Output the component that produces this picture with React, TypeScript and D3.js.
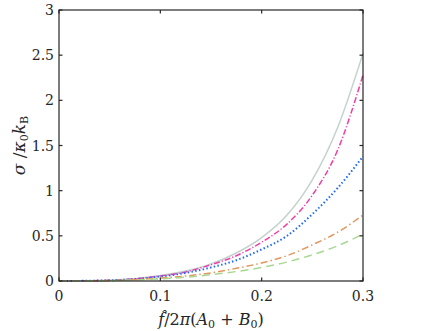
import React, { useEffect, useRef } from 'react';
import * as d3 from 'd3';

// x values (shared by all curves)
const fValues = [0, 0.025, 0.05, 0.075, 0.1, 0.125, 0.15, 0.175, 0.2, 0.225, 0.25, 0.275, 0.3];

// sigma / kappa0 kB for each curve
const greySeries = [0, 0.002, 0.008, 0.025, 0.06, 0.11, 0.19, 0.31, 0.48, 0.73, 1.12, 1.7, 2.52];
const magentaSeries = [0, 0.002, 0.008, 0.024, 0.055, 0.1, 0.18, 0.28, 0.43, 0.63, 0.95, 1.45, 2.28];
const blueSeries = [0, 0.002, 0.008, 0.022, 0.05, 0.09, 0.15, 0.23, 0.35, 0.5, 0.74, 1.03, 1.38];
const orangeSeries = [0, 0.001, 0.005, 0.015, 0.032, 0.055, 0.09, 0.14, 0.2, 0.28, 0.4, 0.54, 0.73];
const greenSeries = [0, 0.001, 0.004, 0.011, 0.024, 0.042, 0.07, 0.105, 0.15, 0.21, 0.29, 0.39, 0.52];

const xTicks = [0, 0.1, 0.2, 0.3];
const yTicks = [0, 0.5, 1, 1.5, 2, 2.5, 3];

const App = () => {
  const svgRef = useRef<SVGSVGElement>(null);
  const width = 442;
  const height = 331;
  const margin = { top: 10, right: 79, bottom: 50, left: 59 };

  useEffect(() => {
    const svg = d3.select(svgRef.current);
    svg.selectAll('*').remove();

    const x = d3.scaleLinear().domain([0, 0.3]).range([margin.left, width - margin.right]);
    const y = d3.scaleLinear().domain([0, 3]).range([height - margin.bottom, margin.top]);

    const font = 'DejaVu Serif, Liberation Serif, serif';
    const ink = '#262626';

    // curves
    const series = [
      { values: greySeries, color: '#c3d2cd', dash: null, w: 1.5 },
      { values: magentaSeries, color: '#ee3fa8', dash: '6,2,1.2,2', w: 1.5 },
      { values: blueSeries, color: '#1f6cf2', dash: '1.5,2.3', w: 2 },
      { values: orangeSeries, color: '#e3975e', dash: '7,3,1.5,3', w: 1.5 },
      { values: greenSeries, color: '#a8d890', dash: '8,5', w: 1.5 },
    ];

    const line = d3.line<number>()
      .x((_, i) => x(fValues[i]))
      .y(d => y(d))
      .curve(d3.curveMonotoneX);

    series.forEach(s => {
      const p = svg.append('path')
        .datum(s.values)
        .attr('d', line)
        .attr('fill', 'none')
        .attr('stroke', s.color)
        .attr('stroke-width', s.w);
      if (s.dash) p.attr('stroke-dasharray', s.dash);
    });

    // box
    const [x0, x1] = x.range();
    const [y0, y1] = y.range();
    svg.append('rect')
      .attr('x', x0).attr('y', y1)
      .attr('width', x1 - x0).attr('height', y0 - y1)
      .attr('fill', 'none').attr('stroke', ink).attr('stroke-width', 1.2);

    // ticks, inside on all sides
    const tl = 3.5;
    xTicks.forEach(t => {
      svg.append('line').attr('x1', x(t)).attr('x2', x(t)).attr('y1', y0).attr('y2', y0 - tl)
        .attr('stroke', ink).attr('stroke-width', 1.2);
      svg.append('line').attr('x1', x(t)).attr('x2', x(t)).attr('y1', y1).attr('y2', y1 + tl)
        .attr('stroke', ink).attr('stroke-width', 1.2);
      svg.append('text')
        .attr('x', x(t)).attr('y', y0 + 20)
        .attr('text-anchor', 'middle')
        .attr('font-family', font).attr('font-size', 14).attr('fill', ink)
        .text(t === 0 ? '0' : d3.format('.1f')(t));
    });
    yTicks.forEach(t => {
      svg.append('line').attr('x1', x0).attr('x2', x0 + tl).attr('y1', y(t)).attr('y2', y(t))
        .attr('stroke', ink).attr('stroke-width', 1.2);
      svg.append('line').attr('x1', x1).attr('x2', x1 - tl).attr('y1', y(t)).attr('y2', y(t))
        .attr('stroke', ink).attr('stroke-width', 1.2);
      svg.append('text')
        .attr('x', x0 - 5).attr('y', y(t) + 5)
        .attr('text-anchor', 'end')
        .attr('font-family', font).attr('font-size', 14).attr('fill', ink)
        .text(String(t));
    });

    // x axis title
    const xt = svg.append('text')
      .attr('x', (x0 + x1) / 2).attr('y', height - 6)
      .attr('text-anchor', 'middle')
      .attr('font-family', font).attr('font-size', 16).attr('fill', ink);
    xt.append('tspan').attr('font-style', 'italic').text('f\u0302');
    xt.append('tspan').text('/2');
    xt.append('tspan').attr('font-style', 'italic').text('π');
    xt.append('tspan').text('(');
    xt.append('tspan').attr('font-style', 'italic').text('A');
    xt.append('tspan').attr('dy', 3).attr('font-size', 11).text('0');
    xt.append('tspan').attr('dy', -3).text(' + ');
    xt.append('tspan').attr('font-style', 'italic').text('B');
    xt.append('tspan').attr('dy', 3).attr('font-size', 11).text('0');
    xt.append('tspan').attr('dy', -3).text(')');

    // y axis title
    const yt = svg.append('text')
      .attr('transform', `translate(25, ${(y0 + y1) / 2}) rotate(-90)`)
      .attr('text-anchor', 'middle')
      .attr('font-family', font).attr('font-size', 17).attr('fill', ink);
    yt.append('tspan').attr('font-style', 'italic').text('σ');
    yt.append('tspan').text(' /');
    yt.append('tspan').attr('font-style', 'italic').text('κ');
    yt.append('tspan').attr('dy', 3).attr('font-size', 11).text('0');
    yt.append('tspan').attr('dy', -3).attr('font-style', 'italic').text('k');
    yt.append('tspan').attr('dy', 3).attr('font-size', 11).text('B');
  }, []);

  return (
    <div style={{ position: 'absolute', left: 0, top: 0 }}>
      <svg ref={svgRef} width={width} height={height} style={{ background: '#fff', display: 'block' }} />
    </div>
  );
};

export default App;
